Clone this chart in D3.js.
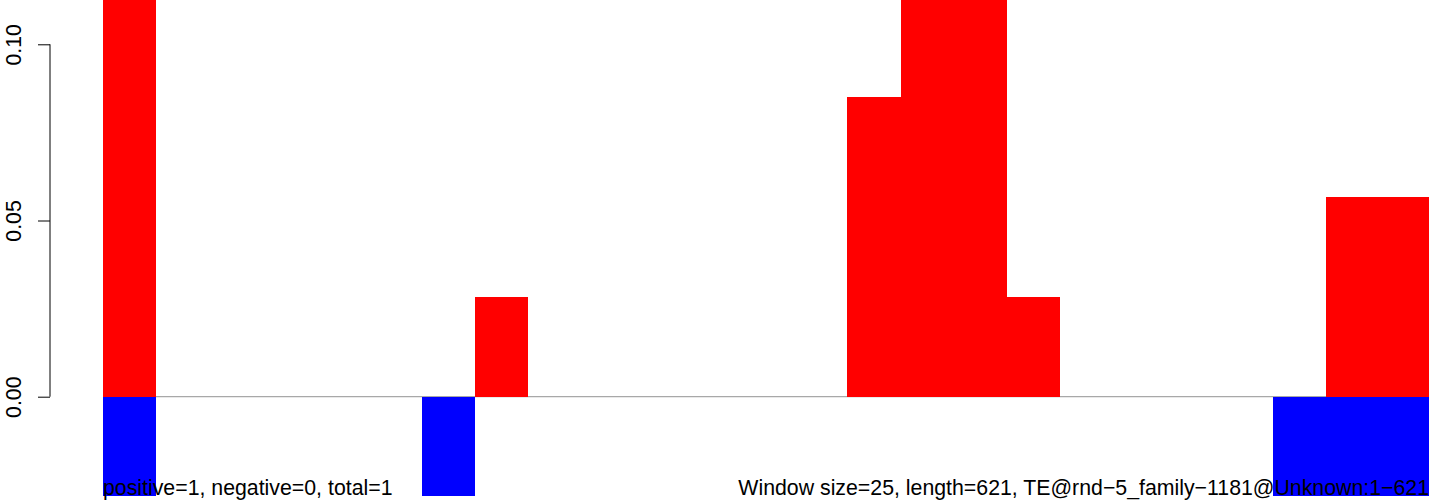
<!DOCTYPE html>
<html>
<head>
<meta charset="utf-8">
<script src="https://cdn.jsdelivr.net/npm/d3@7"></script>
<style>
  html, body { margin: 0; padding: 0; background: #fff; overflow: hidden; }
  svg { display: block; font-family: "Liberation Sans", Arial, Helvetica, sans-serif; }
</style>
</head>
<body>
<script>
// ---- data ----
const windowSize = 25;
const seqLength = 621;
const binStarts = d3.range(0, seqLength, windowSize); // 0,25,...,600
const positiveValues = [0.1417, 0, 0, 0, 0, 0, 0, 0.0283, 0, 0, 0, 0, 0, 0,
                        0.0850, 0.1417, 0.1417, 0.0283, 0, 0, 0, 0, 0, 0.0567, 0.0567];
const negativeValues = [0.0283, 0, 0, 0, 0, 0, 0.0283, 0, 0, 0, 0, 0, 0, 0,
                        0, 0, 0, 0, 0, 0, 0, 0, 0.0283, 0.0283, 0.0283];
const yTicks = [0.00, 0.05, 0.10];
const leftLabel = "positive=1, negative=0, total=1";
const rightLabel = "Window size=25, length=621, TE@rnd\u22125_family\u22121181@Unknown:1\u2212621";

// ---- layout ----
const W = 1429, H = 501;
const svg = d3.select("body").append("svg").attr("width", W).attr("height", H);

const x = d3.scaleLinear().domain([0, seqLength]).range([103, 103 + seqLength * 2.127]);
const y = d3.scaleLinear().domain([0, 0.10]).range([396.7, 44.3]);

const bins = binStarts.map((s, i) => ({ start: s, end: s + windowSize, pos: positiveValues[i], neg: negativeValues[i] }));

// baseline
svg.append("line")
  .attr("x1", x(0)).attr("x2", W)
  .attr("y1", y(0)).attr("y2", y(0))
  .attr("stroke", "#a8a8a8").attr("stroke-width", 1.3);

// positive bars
svg.selectAll("rect.pos").data(bins.filter(d => d.pos > 0)).join("rect")
  .attr("class", "pos")
  .attr("x", d => x(d.start))
  .attr("width", d => x(d.end) - x(d.start))
  .attr("y", d => y(d.pos))
  .attr("height", d => y(0) - y(d.pos))
  .attr("fill", "#ff0000")
  .attr("shape-rendering", "crispEdges");

// negative bars
svg.selectAll("rect.neg").data(bins.filter(d => d.neg > 0)).join("rect")
  .attr("class", "neg")
  .attr("x", d => x(d.start))
  .attr("width", d => x(d.end) - x(d.start))
  .attr("y", y(0))
  .attr("height", d => y(-d.neg) - y(0))
  .attr("fill", "#0000ff")
  .attr("shape-rendering", "crispEdges");

// y axis
const axisX = 50;
const axis = d3.axisLeft(y).tickValues(yTicks).tickFormat(d3.format(".2f")).tickSize(12).tickPadding(0);
const gAxis = svg.append("g").attr("transform", `translate(${axisX},0)`).call(axis);
gAxis.select(".domain").attr("d", `M-0,${y(0.10)}V${y(0)}`).attr("stroke", "#000").attr("stroke-width", 1);
gAxis.selectAll(".tick line").attr("stroke", "#000").attr("stroke-width", 1);
gAxis.selectAll(".tick text")
  .attr("x", null).attr("dy", null)
  .attr("transform", "translate(-29,0) rotate(-90)")
  .attr("text-anchor", "middle")
  .attr("font-size", 21.3)
  .attr("fill", "#000")
  .attr("font-family", "'Liberation Sans', Arial, sans-serif");

// bottom labels
svg.append("text").attr("x", 103).attr("y", 495)
  .attr("font-size", 21.3).attr("fill", "#000").text(leftLabel);
svg.append("text").attr("x", 1429).attr("y", 495)
  .attr("text-anchor", "end")
  .attr("font-size", 21.3).attr("fill", "#000").text(rightLabel);
</script>
</body>
</html>
